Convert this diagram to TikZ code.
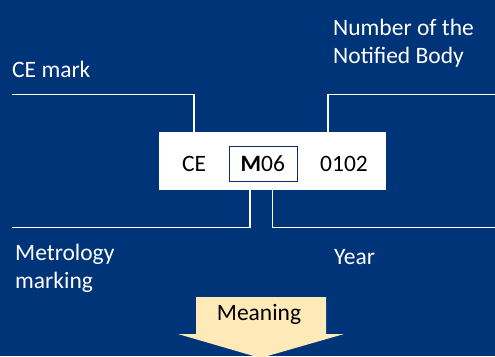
\documentclass[tikz,border=0pt]{standalone}
\usepackage{fontspec}
\setmainfont{Carlito}
\definecolor{navy}{RGB}{0,52,120}
\definecolor{boxline}{RGB}{20,40,100}
\definecolor{pale}{RGB}{254,233,185}
\begin{document}
\begin{tikzpicture}[x=1pt,y=-1pt,
  lbl/.style={inner sep=0pt,text=white,font=\fontsize{23.5}{28}\selectfont,align=left,anchor=base west},
  codetxt/.style={inner sep=0pt,text=black,font=\fontsize{23.5}{28}\selectfont,anchor=base},
  wire/.style={draw=white,line width=1.3pt}]
\fill[navy] (0,0) rectangle (495,356);
\useasboundingbox (0,0) rectangle (495,356);
% white code box
\node[fill=white,minimum width=227pt,minimum height=58pt,inner sep=0pt,anchor=north west] (code) at (159,132) {};
\node[draw=boxline,line width=1pt,minimum width=68.3pt,minimum height=35pt,inner sep=0pt,anchor=north west] (mbox) at (228.7,146) {};
\node[codetxt] (ce) at (194,171) {CE};
\node[codetxt] (m06) at (262.8,171) {{\bfseries M}06};
\node[codetxt] (num) at (344,171) {0102};
% labels
\node[lbl] (cemark) at (12,77) {CE mark};
\node[lbl] (nb) at (333,63) {Number of the\\Notified Body};
\node[lbl] (metro) at (15,288) {Metrology\\marking};
\node[lbl] (year) at (334,264) {Year};
% connector ends
\coordinate (a1) at (12,94.5);
\coordinate (a2) at (495,94.5);
\coordinate (a3) at (12,227.7);
\coordinate (a4) at (495,227.7);
\draw[wire] (a1) -- (194,94.5) -- (194,0 |- code.north);
\draw[wire] (a2) -- (328,94.5) -- (328,0 |- code.north);
\draw[wire] (a3) -- (250,227.7) -- (250,0 |- code.south);
\draw[wire] (a4) -- (272.3,227.7) -- (272.3,0 |- code.south);
% meaning arrow
\fill[pale] (196,297) -- (326,297) -- (326,334) -- (344,334) -- (260.5,358) -- (178,334) -- (196,334) -- cycle;
\node[codetxt] (meaning) at (259,320) {Meaning};
\end{tikzpicture}
\end{document}
